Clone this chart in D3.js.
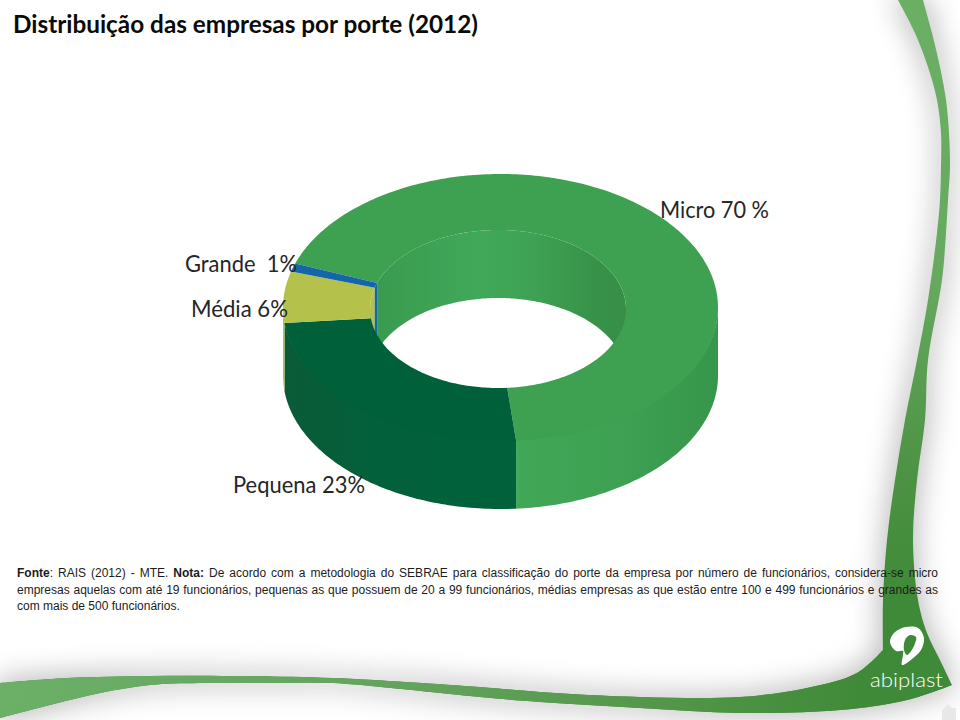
<!DOCTYPE html>
<html lang="pt">
<head>
<meta charset="utf-8">
<script src="https://cdn.jsdelivr.net/npm/d3@7"></script>
<style>
html,body{margin:0;padding:0;background:#fff;overflow:hidden}
svg{display:block}
</style>
</head>
<body>
<svg id="chart" width="960" height="720"></svg>
<script>
// ---- data ----
const categories = ["Micro", "Pequena", "Média", "Grande"];
const shares = [70, 23, 6, 1];
const labelTexts = ["Micro 70 %", "Pequena 23%", "Média 6%", "Grande  1%"];
const topColors = ["#3ea152", "#00603a", "#b4c24b", "#1566a8"];
const title = "Distribuição das empresas por porte (2012)";
const noteLines = [
  [["Fonte", true], [": RAIS (2012) - MTE. ", false], ["Nota:", true], [" De acordo com a metodologia do SEBRAE para classificação do porte da empresa por número de funcionários, considera-se micro", false]],
  [["empresas aquelas com até 19 funcionários, pequenas as que possuem de 20 a 99 funcionários, médias empresas as que estão entre 100 e 499 funcionários e grandes as", false]],
  [["com mais de 500 funcionários.", false]]
];

// ---- layout ----
const svg = d3.select("#chart");
const defs = svg.append("defs");
const rad = d => d * Math.PI / 180;
const outer = {cx: 500.5, cy: 307.5, rx: 217.5, ry: 133.5};
const inner = {cx: 498, cy: 309, rx: 128, ry: 79};
const depth = 68;
const startDeg = 286;

// the ring is seen in slight perspective: sectors nearest the viewer look wider
const nearAngle = rad(215), persp = 0.03;
const view = t => t + 2 * Math.atan(persp * Math.sin(t - nearAngle) / (1 - persp * Math.cos(t - nearAngle)));
const pt = (e, t, z = 0) => [e.cx + e.rx * Math.sin(t), e.cy - e.ry * Math.cos(t) + z];
const line = d3.line();
const steps = (a, b) => {
  const n = Math.max(2, Math.ceil(Math.abs(b - a) / rad(1)));
  return d3.range(n + 1).map(i => a + (b - a) * i / n);
};

const arcs = d3.pie().sort(null).startAngle(rad(startDeg)).endAngle(rad(startDeg + 360))(shares)
  .map((d, i) => ({i, a: view(d.startAngle), b: view(d.endAngle)}));

function overlap(d, lo, hi) {
  const res = [];
  for (let k = -1; k <= 2; k++) {
    const a = Math.max(d.a, lo + k * 2 * Math.PI), b = Math.min(d.b, hi + k * 2 * Math.PI);
    if (b > a) res.push([a, b]);
  }
  return res;
}

function hGrad(id, x1, x2, stops) {
  const g = defs.append("linearGradient").attr("id", id).attr("gradientUnits", "userSpaceOnUse")
    .attr("x1", x1).attr("x2", x2).attr("y1", 0).attr("y2", 0);
  stops.forEach(s => g.append("stop").attr("offset", s[0]).attr("stop-color", s[1]));
}
hGrad("bandH", 0, 960, [[0, "#6cb068"], [0.45, "#62a25c"], [0.7, "#529648"], [0.9, "#3f8a38"], [1, "#3f8a38"]]);
const bandV = defs.append("linearGradient").attr("id", "bandRight").attr("gradientUnits", "userSpaceOnUse")
  .attr("x1", 0).attr("x2", 0).attr("y1", 0).attr("y2", 700);
[[0, "#6ab063"], [0.4, "#66a95f"], [0.65, "#4f9447"], [0.85, "#3f8a38"], [1, "#3f8a38"]].forEach(s =>
  bandV.append("stop").attr("offset", s[0]).attr("stop-color", s[1]));
hGrad("wallOuter0", 514, 718, [[0, "#41a857"], [0.5, "#3ea153"], [1, "#36964b"]]);
hGrad("wallOuter1", 283, 514, [[0, "#0b5a37"], [0.35, "#03603a"], [1, "#00623a"]]);
hGrad("wallInner0", 372, 626, [[0, "#399a4e"], [0.42, "#41a85a"], [0.62, "#3ea254"], [0.88, "#379249"], [1, "#388e48"]]);
const blur = defs.append("filter").attr("id", "soft").attr("x", "-20%").attr("y", "-20%").attr("width", "140%").attr("height", "140%");
blur.append("feGaussianBlur").attr("stdDeviation", 14);

// ---- background swoosh ----
const curve = d3.line().curve(d3.curveCatmullRom.alpha(0.5));
const rightLeft = [[898,0],[915,33],[928,67],[937,100],[941,133],[941,167],[940,200],[937,233],[928,300],[917,360],[905,420],[895,480],[887,540],[883,600],[883,650]];
const bottomTop = [[883,650],[857,673],[807,688],[740,697],[640,697],[540,692],[480,687],[333,678],[233,676],[150,676],[67,678],[0,683]];
const bottomLow = [[0,718],[50,705],[100,693],[150,685],[200,683],[300,683],[333,683],[480,697],[540,702],[640,708],[740,713],[840,710],[907,700],[952,685]];
const rightRight = [[952,685],[940,660],[927,633],[918,600],[913,540],[917,480],[925,420],[928,360],[942,280],[946,233],[948,200],[950,167],[949,133],[946,100],[940,67],[932,33],[923,0]];
const swooshPath = curve(rightLeft) + "L" + curve(bottomTop).slice(1) + "L" + curve(bottomLow).slice(1) + "L" + curve(rightRight).slice(1) + "Z";

svg.append("path").attr("d", swooshPath).attr("fill", "#808080").attr("stroke", "#808080")
  .attr("stroke-width", 8).attr("opacity", 0.52).attr("filter", "url(#soft)");
svg.append("path").attr("d", swooshPath).attr("fill", "url(#bandRight)");
// the bottom arm is coloured along its length
const bottomArm = curve(bottomTop) + "L" + curve(bottomLow).slice(1) + "Z";
svg.append("path").attr("d", bottomArm).attr("fill", "url(#bandH)");

// ---- logo ----
const logo = svg.append("g");
const blob = d3.line().curve(d3.curveCatmullRomClosed.alpha(0.5));
logo.append("path").attr("fill", "#fff").attr("d",
  blob([[890,642],[894,633],[906,627],[918,628],[924,638],[921,650],[912,659],[902,665],[903,655],[903,651],[896,651]]));
logo.append("path").attr("fill", "#3f8a38").attr("d",
  blob([[905,640],[910,635],[916,637],[914,646],[907,655],[904,650]]));
logo.append("text").attr("x", 870).attr("y", 687).attr("fill", "#fff")
  .attr("font-family", "Lato, sans-serif").attr("font-weight", 300).attr("font-size", 20)
  .attr("textLength", 73).attr("lengthAdjust", "spacingAndGlyphs").text("abiplast");
svg.append("path").attr("fill", "#e8e8e8").attr("d",
  d3.line()([[942,720],[942,710],[948,704],[952,708],[956,708],[956,720]]));

// ---- ring ----
const ring = svg.append("g");

// inner wall: the far side of the hole
arcs.forEach(d => {
  overlap(d, rad(-90), rad(90)).forEach(([a, b]) => {
    const top = steps(a, b).map(t => pt(inner, t));
    const low = steps(b, a).map(t => pt(inner, t, depth));
    const fill = d.i === 0 ? "url(#wallInner0)" : topColors[d.i];
    ring.append("path").attr("d", line(top.concat(low)) + "Z").attr("fill", fill);
  });
});

// outer wall: the near side
arcs.forEach(d => {
  overlap(d, rad(90), rad(270)).forEach(([a, b]) => {
    const top = steps(a, b).map(t => pt(outer, t, -1));
    const low = steps(b, a).map(t => pt(outer, t, depth));
    const fill = d.i < 2 ? `url(#wallOuter${d.i})` : topColors[d.i];
    ring.append("path").attr("d", line(top.concat(low)) + "Z").attr("fill", fill);
  });
});

// top surface
arcs.forEach(d => {
  const o = steps(d.a, d.b).map(t => pt(outer, t));
  const n = steps(d.b, d.a).map(t => pt(inner, t));
  ring.append("path").attr("d", line(o.concat(n)) + "Z").attr("fill", topColors[d.i]);
});

// ---- texts ----
svg.append("text").attr("x", 13).attr("y", 33).attr("fill", "#0a0a0a")
  .attr("font-family", "Lato, sans-serif").attr("font-weight", 700).attr("font-size", 25)
  .attr("textLength", 465).attr("lengthAdjust", "spacingAndGlyphs").text(title);

const labelSpots = [[660, 218, 109], [233, 493, 132], [191, 317, 97], [185, 272, 112]];
labelTexts.forEach((t, i) => {
  svg.append("text").attr("x", labelSpots[i][0]).attr("y", labelSpots[i][1]).attr("fill", "#262626")
    .style("white-space", "pre")
    .attr("font-family", "Lato, sans-serif").attr("font-size", 23)
    .attr("textLength", labelSpots[i][2]).attr("lengthAdjust", "spacingAndGlyphs").text(t);
});

const noteBase = [577, 594, 610], noteWidth = 921;
noteLines.forEach((runs, i) => {
  const el = svg.append("text").attr("x", 17).attr("y", noteBase[i]).attr("fill", "#1c1c1c")
    .style("white-space", "pre")
    .attr("font-family", "'Liberation Sans', Arial, sans-serif").attr("font-size", 12);
  runs.forEach(r => el.append("tspan").attr("font-weight", r[1] ? 700 : 400).text(r[0]));
  if (i < 2) {
    const gaps = runs.map(r => r[0]).join("").split(" ").length - 1;
    const extra = (noteWidth - el.node().getComputedTextLength()) / gaps;
    el.style("word-spacing", extra + "px");
  }
});
</script>
</body>
</html>
